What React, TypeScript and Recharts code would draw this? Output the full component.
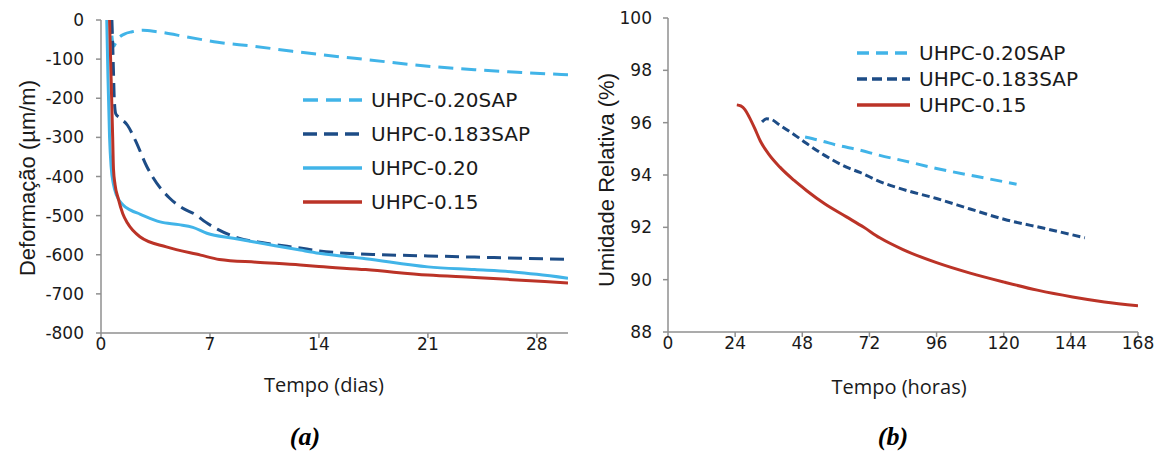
import React from 'react';
import { LineChart, Line, XAxis, YAxis } from 'recharts';

// (a) deformação x tempo (dias)
const sap020Days = [0.7, 0.8, 0.95, 1.1, 1.5, 2.0, 2.7, 3.6, 5.5, 7.5, 9.8, 12.3, 14, 17, 21, 24, 27, 30];
const sap020Strain = [-40, -68, -58, -48, -36, -30, -26, -30, -43, -57, -67, -80, -88, -101, -118, -127, -134, -140];

const sap0183Days = [0.7, 0.75, 0.8, 0.85, 0.95, 1.2, 1.7, 2.2, 2.95, 3.3, 4.4, 5.2, 6.1, 6.7, 7.5, 8.9, 10.5, 12.8, 14, 16, 18, 21, 24, 27, 30];
const sap0183Strain = [0, -60, -130, -200, -240, -250, -269, -307, -375, -400, -455, -480, -498, -516, -535, -558, -570, -583, -590, -597, -600, -603, -606, -609, -612];

const u020Days = [0.37, 0.45, 0.55, 0.65, 0.8, 1.0, 1.4, 1.9, 2.5, 3.8, 5.0, 5.9, 6.8, 8.5, 10.5, 12.8, 14, 17, 21, 24, 26.5, 28, 30];
const u020Strain = [0, -150, -300, -375, -420, -448, -472, -486, -496, -516, -523, -530, -545, -558, -572, -588, -596, -610, -631, -638, -644, -650, -660];

const u015Days = [0.55, 0.65, 0.75, 0.8, 0.9, 1.1, 1.4, 1.7, 2.5, 4.2, 6.4, 7.6, 10, 12.8, 14, 17, 21, 24, 27, 30];
const u015Strain = [0, -150, -300, -380, -420, -455, -495, -519, -554, -580, -601, -612, -619, -626, -630, -638, -652, -658, -665, -672];

const dayTicks = [0, 7, 14, 21, 28];
const strainTicks = [-800, -700, -600, -500, -400, -300, -200, -100, 0];

// (b) umidade relativa x tempo (horas)
const rhSap020Hours = [49, 55, 60, 68.6, 75.7, 84, 96, 110, 124.6];
const rhSap020 = [95.45, 95.3, 95.15, 94.95, 94.75, 94.55, 94.25, 93.95, 93.65];

const rhSap0183Hours = [33.6, 35.2, 37, 40, 45, 49.6, 56, 63.8, 68.6, 75.7, 84, 96, 108, 120.4, 135, 149];
const rhSap0183 = [96.03, 96.15, 96.12, 95.9, 95.55, 95.2, 94.75, 94.3, 94.1, 93.75, 93.45, 93.1, 92.7, 92.3, 91.95, 91.6];

const rhU015Hours = [24.6, 26, 27.5, 29, 31, 33, 36, 40, 45, 49.6, 56, 63.8, 70, 75.7, 84, 96, 108, 120.4, 132, 144.6, 156, 168];
const rhU015 = [96.68, 96.64, 96.5, 96.22, 95.78, 95.3, 94.8, 94.3, 93.8, 93.4, 92.9, 92.4, 92.0, 91.6, 91.15, 90.65, 90.25, 89.9, 89.6, 89.34, 89.15, 89.0];

const hourTicks = [0, 24, 48, 72, 96, 120, 144, 168];
const rhTicks = [88, 90, 92, 94, 96, 98, 100];

const LIGHT = '#41b4e8';
const DARK = '#1d4c86';
const RED = '#bb3327';
const AXIS = '#8f8f8f';

const zip = (xs: number[], ys: number[]) => xs.map((x, i) => ({ x, y: ys[i] }));

const legendA = [
  { name: 'UHPC-0.20SAP', color: LIGHT, dash: '15 8' },
  { name: 'UHPC-0.183SAP', color: DARK, dash: '14 7' },
  { name: 'UHPC-0.20', color: LIGHT, dash: undefined },
  { name: 'UHPC-0.15', color: RED, dash: undefined },
];
const legendB = [
  { name: 'UHPC-0.20SAP', color: LIGHT, dash: '12 7' },
  { name: 'UHPC-0.183SAP', color: DARK, dash: '10 5' },
  { name: 'UHPC-0.15', color: RED, dash: undefined },
];

const XTick = ({ x, y, payload }: any) => (
  <text x={x} y={y + 12} textAnchor="middle" fontFamily="DejaVu Sans" fontSize={17} fill="#1a1a1a">
    {payload.value}
  </text>
);

const YTick = ({ x, y, payload }: any) => (
  <text x={x} y={y} textAnchor="end" dominantBaseline="central" fontFamily="DejaVu Sans" fontSize={17} fill="#1a1a1a">
    {payload.value}
  </text>
);

function Legend({ items, left, top, rowGap, lineLen }: any) {
  return (
    <svg style={{ position: 'absolute', left, top }} width={260} height={rowGap * items.length + 10}>
      {items.map((it: any, i: number) => {
        const y = 12 + i * rowGap;
        return (
          <g key={it.name}>
            <line x1={0} x2={lineLen} y1={y} y2={y} stroke={it.color} strokeWidth={3.5} strokeDasharray={it.dash} />
            <text x={lineLen + 9} y={y} dominantBaseline="central" fontFamily="DejaVu Sans" fontSize={20} fill="#1a1a1a">
              {it.name}
            </text>
          </g>
        );
      })}
    </svg>
  );
}

const abs = (style: React.CSSProperties): React.CSSProperties => ({ position: 'absolute', ...style });

export default function App() {
  return (
    <div style={{ position: 'absolute', left: 0, top: 0, width: 1164, height: 456, background: '#fff', overflow: 'hidden' }}>
      {/* (a) */}
      <div style={abs({ left: 0, top: 0 })}>
        <LineChart width={590} height={400} margin={{ top: 20, right: 22, bottom: 37, left: 0 }}>
          <XAxis
            type="number"
            dataKey="x"
            domain={[0, 30]}
            ticks={dayTicks}
            allowDataOverflow
            height={30}
            tick={<XTick />}
            tickSize={5}
            tickMargin={0}
            stroke={AXIS}
            strokeWidth={1.5}
          />
          <YAxis
            type="number"
            dataKey="y"
            domain={[-800, 0]}
            ticks={strainTicks}
            allowDataOverflow
            width={101}
            tick={<YTick />}
            tickSize={5}
            tickMargin={12}
            stroke={AXIS}
            strokeWidth={1.5}
          />
          <Line data={zip(sap020Days, sap020Strain)} dataKey="y" type="monotone" stroke={LIGHT} strokeWidth={3} strokeDasharray="15 8" dot={false} isAnimationActive={false} />
          <Line data={zip(sap0183Days, sap0183Strain)} dataKey="y" type="monotone" stroke={DARK} strokeWidth={3} strokeDasharray="14 7" dot={false} isAnimationActive={false} />
          <Line data={zip(u020Days, u020Strain)} dataKey="y" type="monotone" stroke={LIGHT} strokeWidth={3} dot={false} isAnimationActive={false} />
          <Line data={zip(u015Days, u015Strain)} dataKey="y" type="monotone" stroke={RED} strokeWidth={3} dot={false} isAnimationActive={false} />
        </LineChart>
      </div>
      <Legend items={legendA} left={303} top={88} rowGap={34} lineLen={59} />
      <div style={abs({ left: 28, top: 178, transform: 'translate(-50%, -50%) rotate(-90deg)', whiteSpace: 'nowrap', fontFamily: 'Liberation Sans', fontSize: 22, color: '#1a1a1a' })}>
        Deformação (µm/m)
      </div>
      <div style={abs({ left: 324, top: 384, transform: 'translate(-50%, -50%)', whiteSpace: 'nowrap', fontFamily: 'Open Sans', fontSize: 20, color: '#1a1a1a' })}>
        Tempo (dias)
      </div>

      {/* (b) */}
      <div style={abs({ left: 590, top: 0 })}>
        <LineChart width={574} height={400} margin={{ top: 18, right: 26, bottom: 38, left: 0 }}>
          <XAxis
            type="number"
            dataKey="x"
            domain={[0, 168]}
            ticks={hourTicks}
            allowDataOverflow
            height={30}
            tick={<XTick />}
            tickSize={5}
            tickMargin={0}
            stroke={AXIS}
            strokeWidth={1.5}
          />
          <YAxis
            type="number"
            dataKey="y"
            domain={[88, 100]}
            ticks={rhTicks}
            allowDataOverflow
            width={78}
            tick={<YTick />}
            tickSize={5}
            tickMargin={11}
            stroke={AXIS}
            strokeWidth={1.5}
          />
          <Line data={zip(rhSap020Hours, rhSap020)} dataKey="y" type="monotone" stroke={LIGHT} strokeWidth={3} strokeDasharray="12 7" dot={false} isAnimationActive={false} />
          <Line data={zip(rhSap0183Hours, rhSap0183)} dataKey="y" type="monotone" stroke={DARK} strokeWidth={3} strokeDasharray="8 4" dot={false} isAnimationActive={false} />
          <Line data={zip(rhU015Hours, rhU015)} dataKey="y" type="monotone" stroke={RED} strokeWidth={3} dot={false} isAnimationActive={false} />
        </LineChart>
      </div>
      <Legend items={legendB} left={857} top={41} rowGap={26} lineLen={53} />
      <div style={abs({ left: 607, top: 180, transform: 'translate(-50%, -50%) rotate(-90deg)', whiteSpace: 'nowrap', fontFamily: 'Liberation Sans', fontSize: 22, color: '#1a1a1a' })}>
        Umidade Relativa (%)
      </div>
      <div style={abs({ left: 899, top: 386, transform: 'translate(-50%, -50%)', whiteSpace: 'nowrap', fontFamily: 'Open Sans', fontSize: 20, color: '#1a1a1a' })}>
        Tempo (horas)
      </div>

      {/* legendas das figuras */}
      <div style={abs({ left: 305, top: 437, transform: 'translate(-50%, -50%)', fontFamily: 'Liberation Serif', fontWeight: 'bold', fontStyle: 'italic', fontSize: 26 })}>
        (a)
      </div>
      <div style={abs({ left: 893, top: 437, transform: 'translate(-50%, -50%)', fontFamily: 'Liberation Serif', fontWeight: 'bold', fontStyle: 'italic', fontSize: 26 })}>
        (b)
      </div>
    </div>
  );
}
